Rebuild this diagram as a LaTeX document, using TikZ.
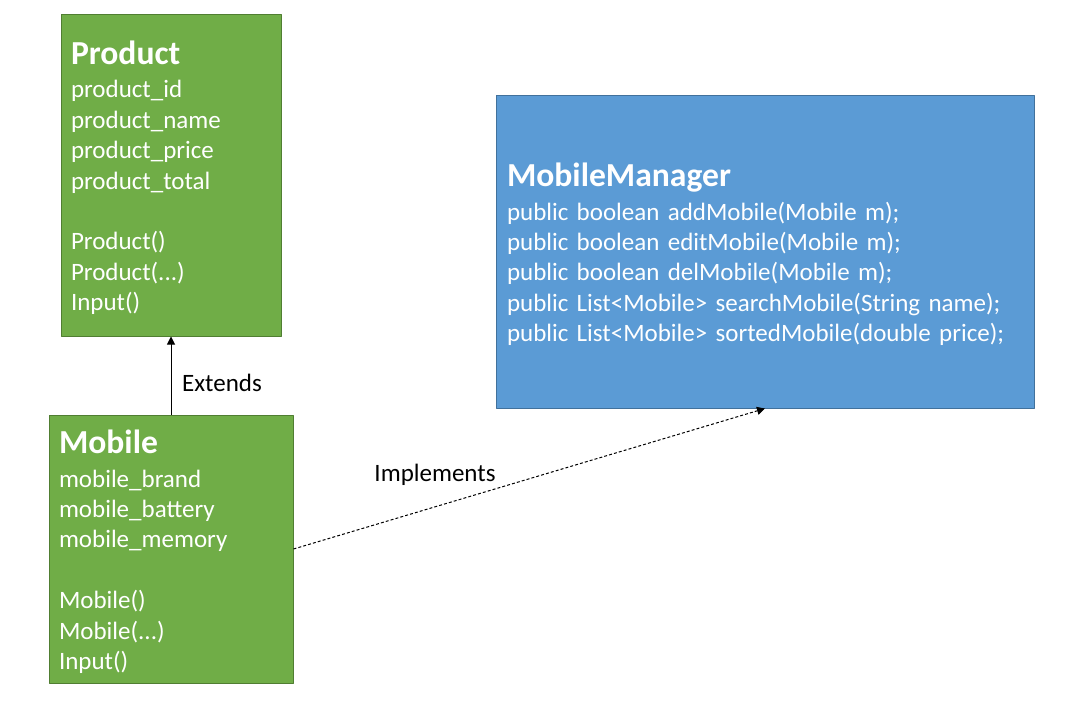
\documentclass[tikz,border=0pt]{standalone}
\usepackage{fontspec}
\setmainfont{Carlito}
\usetikzlibrary{arrows.meta}
\definecolor{classgreen}{HTML}{70AD47}
\definecolor{classgreenedge}{HTML}{507E32}
\definecolor{ifaceblue}{HTML}{5B9BD5}
\definecolor{ifaceblueedge}{HTML}{41719C}

\newcommand{\classtitle}[1]{{\fontsize{25.2}{22.8}\selectfont\bfseries\rule{0pt}{22pt}#1}\\[2.3pt]}

\begin{document}
\begin{tikzpicture}[
  x=0.75pt,
  y=-0.75pt,
  line join=round,
  classbox/.style={draw=classgreenedge,fill=classgreen,line width=0.75pt,text=white,
    align=left,inner xsep=7.5pt,inner ysep=0pt,font=\fontsize{18.75}{22.8}\selectfont},
  ifacebox/.style={classbox,draw=ifaceblueedge,fill=ifaceblue,inner xsep=8.25pt},
  linklabel/.style={font=\fontsize{18.75}{22.8}\selectfont,text=black,inner sep=0pt},
  extends/.style={draw=black,line width=0.75pt,-{Triangle[length=6pt,width=6pt]}},
  implements/.style={draw=black,line width=0.75pt,dash pattern=on 2.2pt off 1.6pt,
    -{Triangle[length=6pt,width=6pt]}}
]
  % Match the original artwork frame.
  \useasboundingbox (0,0) rectangle (1080,711);

  % Base class at the top left.
  \node[classbox,minimum width=165pt,minimum height=241.5pt,text width=150pt]
    (product) at (171,175) {\classtitle{Product}
    product\_id\\ product\_name\\ product\_price\\ product\_total\\[22.8pt]
    Product()\\ Product(...)\\ Input()};

  % Derived class below it.
  \node[classbox,minimum width=183pt,minimum height=201pt,text width=168pt]
    (mobile) at (171,549) {\classtitle{Mobile}
    mobile\_brand\\ mobile\_battery\\ mobile\_memory\\[22.8pt]
    Mobile()\\ Mobile(...)\\ Input()};

  % Interface on the right.
  \node[ifacebox,minimum width=403.5pt,minimum height=234.75pt,text width=387pt]
    (manager) at (765,251.5) {\classtitle{MobileManager}
    public boolean addMobile(Mobile m);\\
    public boolean editMobile(Mobile m);\\
    public boolean delMobile(Mobile m);\\
    public List<Mobile> searchMobile(String name);\\
    public List<Mobile> sortedMobile(double price);};

  % Relations between the classes.
  \draw[extends] (mobile.north) -- (product.south);
  \node[linklabel] (extendsLabel) at (222,383) {Extends};

  \draw[implements] (mobile.east) -- (manager.south);
  \node[linklabel] (implementsLabel) at (435,475) {Implements};
\end{tikzpicture}
\end{document}
